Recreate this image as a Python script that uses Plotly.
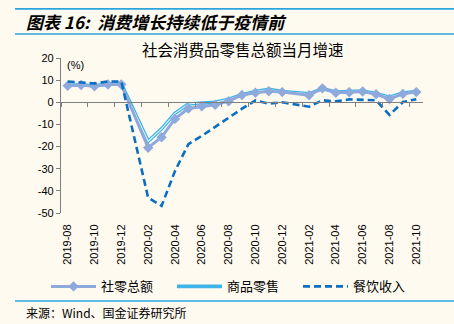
import plotly.graph_objects as go

months = ["2019-08","2019-09","2019-10","2019-11","2019-12",
          "2020-01","2020-02","2020-03","2020-04","2020-05","2020-06","2020-07",
          "2020-08","2020-09","2020-10","2020-11","2020-12",
          "2021-01","2021-02","2021-03","2021-04","2021-05","2021-06","2021-07",
          "2021-08","2021-09","2021-10"]
tick_labels = months[::2]
y_ticks = [20, 10, 0, -10, -20, -30, -40, -50]
y_tick_labels = ["20", "10", "0", "-10", "-20", "-30", "-40", "-50"]

retail_total = [7.5, 7.8, 7.2, 8.0, 8.0, None, -20.5, -15.8, -7.5, -2.8, -1.8, -1.1,
                0.5, 3.3, 4.3, 5.0, 4.6, None, 3.2, 6.3, 4.3, 4.5, 4.9, 3.6, 1.5, 3.8, 4.6]
goods_retail = [7.7, 7.9, 7.5, 8.2, 8.3, None, -17.6, -12.0, -5.0, -0.8, -0.2, 0.0,
                1.4, 3.4, 4.9, 5.8, 4.9, None, 3.8, 6.2, 4.6, 4.9, 5.1, 4.0, 2.3, 4.2, 4.9]
catering = [9.4, 9.0, 8.5, 9.4, 9.4, None, -43.1, -46.8, -31.1, -18.9, -15.2, -11.0,
            -7.0, -2.9, 0.8, -0.6, 0.0, None, -2.0, 0.9, 0.4, 1.3, 1.0, 0.9, -5.7, 0.1, 1.4]

names = ["社零总额", "商品零售", "餐饮收入"]

W, H = 454, 324
L, R, T, B = 61, 423, 58, 212.7
def px(x): return (x - L) / (R - L)
def py(y): return (B - y) / (B - T)

idx = list(range(len(months)))

fig = go.Figure()
fig.add_trace(go.Scatter(x=idx, y=goods_retail, name=names[1], mode="lines",
                         connectgaps=True, line=dict(color="#3DB4EA", width=3.6)))
fig.add_trace(go.Scatter(x=idx, y=goods_retail, showlegend=False, mode="lines",
                         connectgaps=True, hoverinfo="skip",
                         line=dict(color="#E4F5FC", width=1.1)))
fig.add_trace(go.Scatter(x=idx, y=retail_total, name=names[0], mode="lines+markers",
                         connectgaps=True, line=dict(color="#8EA9DC", width=3),
                         marker=dict(symbol="diamond", size=8, color="#8EA9DC")))
fig.add_trace(go.Scatter(x=idx, y=catering, name=names[2], mode="lines",
                         connectgaps=True, line=dict(color="#0A6FC2", width=2.6, dash="7px,4px")))
# invisible trace to hold the zero-line axis
fig.add_trace(go.Scatter(x=[0], y=[0], xaxis="x2", mode="markers", showlegend=False,
                         hoverinfo="skip", marker=dict(opacity=0)))

fig.data[2].legendrank = 1
fig.data[0].legendrank = 2
fig.data[3].legendrank = 3

tickfont = dict(family="Liberation Sans, Arial", size=11, color="#000")
fig.update_layout(
    width=W, height=H, autosize=False,
    margin=dict(l=L, r=W - R, t=T, b=H - B, pad=0),
    paper_bgcolor="#FEFAEF", plot_bgcolor="#FEFAEF",
    showlegend=True,
    xaxis=dict(range=[-0.5, len(months) - 0.5], tickmode="array",
               tickvals=idx[::2], ticktext=tick_labels, tickangle=-90,
               ticks="outside", ticklen=6, tickcolor="rgba(0,0,0,0)",
               showline=False, showgrid=False, zeroline=False,
               tickfont=dict(family="Liberation Sans, Arial", size=11, color="#000")),
    xaxis2=dict(overlaying="x", anchor="free", position=50 / 70,
                range=[-0.5, len(months) - 0.5], tickmode="linear", tick0=-0.5, dtick=2,
                ticks="outside", ticklen=4, tickcolor="#808080", tickwidth=1,
                showline=True, linecolor="#808080", linewidth=1.2,
                showticklabels=False, showgrid=False, zeroline=False),
    yaxis=dict(range=[-50, 20], tickmode="array", tickvals=y_ticks, ticktext=y_tick_labels,
               ticks="outside", ticklen=4, tickcolor="#808080",
               showline=True, linecolor="#808080", linewidth=1.2,
               showgrid=False, zeroline=False, tickfont=tickfont),
    legend=dict(orientation="h", x=px(46), xanchor="left", y=py(286), yanchor="middle",
                entrywidth=66, itemwidth=45, bgcolor="rgba(0,0,0,0)",
                font=dict(family="Noto Sans CJK SC", size=13, color="#000"),
                traceorder="normal", tracegroupgap=0),
    font=dict(family="Noto Sans CJK SC"),
)

line_color = "#2BA4DD"
for yy in (9, 34, 300.5):
    fig.add_shape(type="line", xref="paper", yref="paper",
                  x0=px(15), x1=px(454), y0=py(yy), y1=py(yy),
                  line=dict(color=line_color, width=1.6))

fig.add_annotation(text="<b><i>图表 16:  消费增长持续低于疫情前</i></b>", xref="paper", yref="paper",
                   x=px(24), y=py(22), xanchor="left", yanchor="middle", showarrow=False,
                   font=dict(family="Noto Sans CJK SC", size=17, color="#000"))
fig.add_annotation(text="社会消费品零售总额当月增速", xref="paper", yref="paper",
                   x=px(242.5), y=py(49), xanchor="center", yanchor="middle", showarrow=False,
                   font=dict(family="Noto Sans CJK SC", size=15.5, color="#000"))
fig.add_annotation(text="(%)", xref="paper", yref="paper",
                   x=px(65), y=py(65), xanchor="left", yanchor="middle", showarrow=False,
                   font=dict(family="Liberation Sans, Arial", size=11, color="#000"))
fig.add_annotation(text="来源：Wind、国金证券研究所", xref="paper", yref="paper",
                   x=px(24), y=py(312), xanchor="left", yanchor="middle", showarrow=False,
                   font=dict(family="Noto Sans CJK SC", size=12, color="#000"))

fig.write_html("out.html")
